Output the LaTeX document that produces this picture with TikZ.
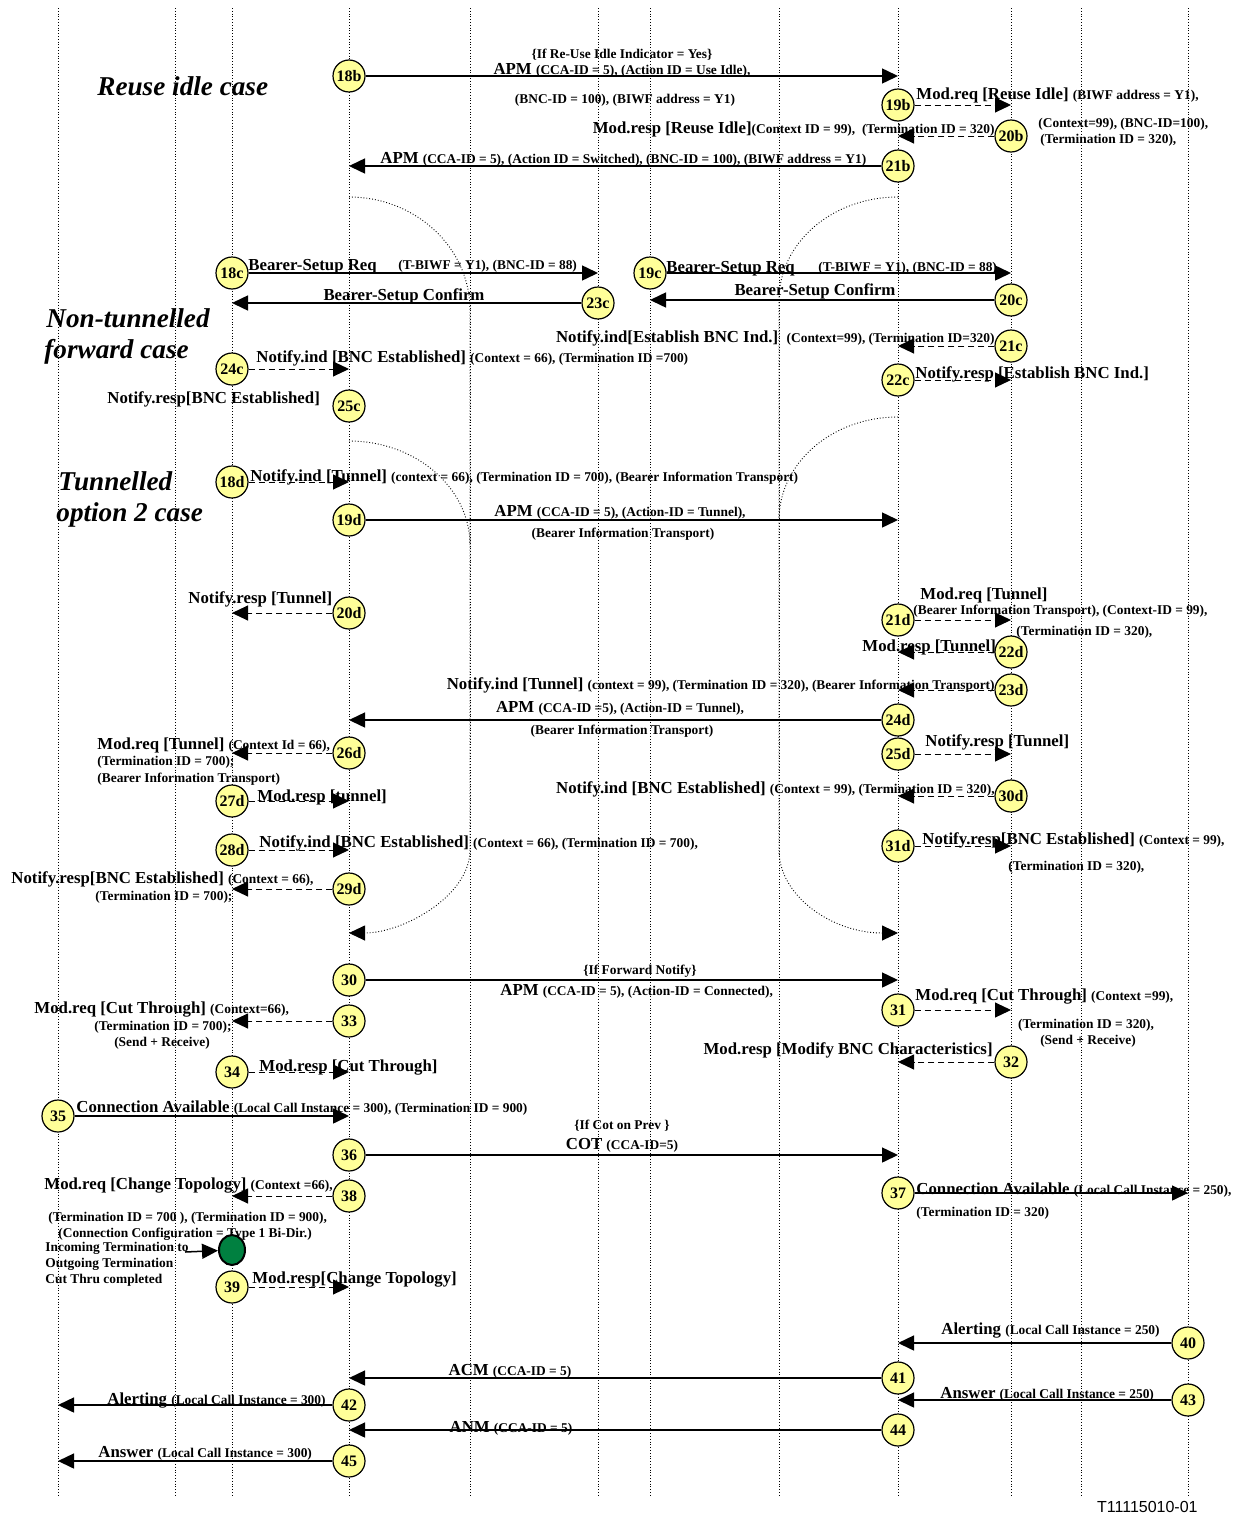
\documentclass[tikz,border=0pt]{standalone}
\usepackage{fontspec}
\setmainfont{Liberation Serif}
\newfontfamily\idfont{Liberation Sans}
\usetikzlibrary{arrows.meta,shapes.geometric}
\definecolor{stepyellow}{RGB}{255,255,153}
\definecolor{cutgreen}{RGB}{0,128,64}
\newcommand\sm[1]{{\fontsize{6.7}{7}\selectfont #1}}
\tikzset{
	life/.style={densely dotted,line width=0.4pt},
	stepnum/.style={circle,draw,line width=0.6pt,fill=stepyellow,minimum size=16pt,inner sep=0pt,font=\bfseries\fontsize{8}{8}\selectfont},
	msg/.style={line width=0.75pt,-{Triangle[length=8pt,width=7.5pt]}},
	ctl/.style={densely dashed,line width=0.5pt,-{Triangle[length=8pt,width=7.5pt]}},
	arcpath/.style={densely dotted,line width=0.45pt},
	lbl/.style={inner sep=0pt,font=\bfseries\fontsize{8.4}{9}\selectfont},
	note/.style={inner sep=0pt,font=\bfseries\fontsize{6.7}{7.6}\selectfont},
	casetitle/.style={inner sep=0pt,anchor=base west,font=\bfseries\itshape\fontsize{13.6}{16}\selectfont},
}
\begin{document}
\begin{tikzpicture}[x=0.5pt,y=-0.5pt]
	\useasboundingbox (0,0) rectangle (1241,1515);

	\foreach \i/\x in {1/58,2/175,3/232,4/349,5/470,6/598,7/650,8/779,9/898,10/1011,11/1081,12/1188}{
		\coordinate (L\i) at (\x,8);
		\coordinate (E\i) at (\x,1495);
		\draw[life] (L\i) -- (E\i);
	}

	\coordinate (la) at (349,197);
	\coordinate (lb) at (349,441);
	\coordinate (lc) at (349,933);
	\coordinate (ra) at (898,197);
	\coordinate (rb) at (898,417);
	\coordinate (rc) at (898,933);
	\draw[arcpath] (la) .. controls (416,197) and (470,248) .. (470,310) -- (470,850);
	\draw[arcpath] (lb) .. controls (416,441) and (470,488) .. (470,545);
	\draw[arcpath,-{Triangle[length=8pt,width=7.5pt]}] (470,850) .. controls (470,896) and (403,933) .. (lc);
	\draw[arcpath] (ra) .. controls (832,197) and (779,243) .. (779,300) -- (779,850);
	\draw[arcpath] (rb) .. controls (832,417) and (779,463) .. (779,520);
	\draw[arcpath,-{Triangle[length=8pt,width=7.5pt]}] (779,850) .. controls (779,896) and (832,933) .. (rc);

	\foreach \n/\x/\y in {18b/349/76,19b/898/105,20b/1011/136,21b/898/166,
		18c/232/273,23c/598/303,19c/650/273,20c/1011/300,21c/1011/346,24c/232/369,22c/898/380,25c/349/406,
		18d/232/482,19d/349/520,20d/349/613,21d/898/620,22d/1011/652,23d/1011/690,24d/898/720,25d/898/754,
		26d/349/753,27d/232/801,30d/1011/796,28d/232/850,31d/898/846,29d/349/889,
		30/349/980,33/349/1021,31/898/1010,32/1011/1062,34/232/1072,35/58/1116,36/349/1155,38/349/1196,
		37/898/1193,39/232/1287,40/1188/1343,41/898/1378,43/1188/1400,42/349/1405,44/898/1430,45/349/1461}
		\node[stepnum] (n\n) at (\x,\y) {\n};

	\foreach \from/\to in {18b/9,21b/4,18c/6,23c/3,19c/10,20c/7,19d/9,24d/4,30/9,35/4,36/9,37/12,40/9,41/4,43/9,42/1,44/4,45/1}
		\draw[msg] (n\from) -- (n\from -| L\to);
	\foreach \from/\to in {19b/10,20b/9,21c/9,24c/4,22c/10,18d/4,20d/3,21d/10,22d/9,23d/9,25d/10,26d/3,27d/4,30d/9,28d/4,31d/10,29d/3,33/3,31/10,32/9,34/4,38/3,39/4}
		\draw[ctl] (n\from) -- (n\from -| L\to);

	\node[casetitle] (reuse) at (97,95) {Reuse idle case};
	\node[casetitle] (nontunA) at (46,327) {Non-tunnelled};
	\node[casetitle] (nontunB) at (44,358) {forward case};
	\node[casetitle] (tunA) at (58,490) {Tunnelled};
	\node[casetitle] (tunB) at (56,521) {option 2 case};

	\node[note,anchor=base] (t18bif) at (622,58) {\{If Re-Use Idle Indicator = Yes\}};
	\node[lbl,anchor=base] (t18b) at (622,74) {APM \sm{(CCA-ID = 5), (Action ID = Use Idle),}};
	\node[note,anchor=base] (t18bx) at (625,103) {(BNC-ID = 100), (BIWF address = Y1)};
	\node[lbl,anchor=base west] (t19b) at (916,99) {Mod.req [Reuse Idle] \sm{(BIWF address = Y1),}};
	\node[lbl,anchor=base east] (t20b) at (995,133) {Mod.resp [Reuse Idle]\sm{(Context ID = 99),~~(Termination ID = 320)}};
	\node[note,anchor=base west] (t20bx) at (1038,127) {(Context=99), (BNC-ID=100),};
	\node[note,anchor=base west] (t20by) at (1040,143) {(Termination ID = 320),};
	\node[lbl,anchor=base west] (t21b) at (380,163) {APM \sm{(CCA-ID = 5), (Action ID = Switched), (BNC-ID = 100), (BIWF address = Y1)}};

	\node[lbl,anchor=base west] (t18c) at (248,270) {Bearer-Setup Req};
	\node[note,anchor=base west] (t18cx) at (398,269) {(T-BIWF = Y1), (BNC-ID = 88)};
	\node[lbl,anchor=base] (t23c) at (404,300) {Bearer-Setup Confirm};
	\node[lbl,anchor=base west] (t19c) at (666,272) {Bearer-Setup Req};
	\node[note,anchor=base west] (t19cx) at (818,271) {(T-BIWF = Y1), (BNC-ID = 88)};
	\node[lbl,anchor=base] (t20c) at (815,295) {Bearer-Setup Confirm};
	\node[lbl,anchor=base east] (t21c) at (995,342) {Notify.ind[Establish BNC Ind.]~~\sm{(Context=99), (Termination ID=320)}};
	\node[lbl,anchor=base west] (t24c) at (256,362) {Notify.ind [BNC Established] \sm{(Context = 66), (Termination ID =700)}};
	\node[lbl,anchor=base west] (t22c) at (915,378) {Notify.resp [Establish BNC Ind.]};
	\node[lbl,anchor=base west] (t25c) at (107,403) {Notify.resp[BNC Established]};

	\node[lbl,anchor=base west] (t18d) at (250,481) {Notify.ind [Tunnel] \sm{(context = 66), (Termination ID = 700), (Bearer Information Transport)}};
	\node[lbl,anchor=base] (t19d) at (620,516) {APM \sm{(CCA-ID = 5), (Action-ID = Tunnel),}};
	\node[note,anchor=base] (t19dx) at (623,537) {(Bearer Information Transport)};
	\node[lbl,anchor=base west] (t20d) at (188,603) {Notify.resp [Tunnel]};
	\node[lbl,anchor=base west] (t21d) at (920,599) {Mod.req [Tunnel]};
	\node[note,anchor=base west] (t21dx) at (913,614) {(Bearer Information Transport), (Context-ID = 99),};
	\node[note,anchor=base west] (t21dy) at (1016,635) {(Termination ID = 320),};
	\node[lbl,anchor=base west] (t22d) at (862,651) {Mod.resp [Tunnel]};
	\node[lbl,anchor=base east] (t23d) at (995,689) {Notify.ind [Tunnel] \sm{(context = 99), (Termination ID = 320), (Bearer Information Transport)}};
	\node[lbl,anchor=base] (t24d) at (620,712) {APM \sm{(CCA-ID =5), (Action-ID = Tunnel),}};
	\node[note,anchor=base] (t24dx) at (622,734) {(Bearer Information Transport)};
	\node[lbl,anchor=base west] (t25d) at (925,746) {Notify.resp [Tunnel]};
	\node[lbl,anchor=base west] (t26d) at (97,749) {Mod.req [Tunnel] \sm{(Context Id = 66),}};
	\node[note,anchor=base west] (t26dx) at (97,765) {(Termination ID = 700);};
	\node[note,anchor=base west] (t26dy) at (97,782) {(Bearer Information Transport)};
	\node[lbl,anchor=base west] (t27d) at (257,801) {Mod.resp [tunnel]};
	\node[lbl,anchor=base east] (t30d) at (995,793) {Notify.ind [BNC Established] \sm{(Context = 99), (Termination ID = 320),}};
	\node[lbl,anchor=base west] (t28d) at (259,847) {Notify.ind [BNC Established] \sm{(Context = 66), (Termination ID = 700),}};
	\node[lbl,anchor=base west] (t31d) at (922,844) {Notify.resp[BNC Established] \sm{(Context = 99),}};
	\node[note,anchor=base west] (t31dx) at (1008,870) {(Termination ID = 320),};
	\node[lbl,anchor=base west] (t29d) at (11,883) {Notify.resp[BNC Established] \sm{(Context = 66),}};
	\node[note,anchor=base west] (t29dx) at (95,900) {(Termination ID = 700);};

	\node[note,anchor=base] (t30if) at (640,974) {\{If Forward Notify\}};
	\node[lbl,anchor=base west] (t30) at (500,995) {APM \sm{(CCA-ID = 5), (Action-ID = Connected),}};
	\node[lbl,anchor=base west] (t33) at (34,1013) {Mod.req [Cut Through] \sm{(Context=66),}};
	\node[note,anchor=base] (t33x) at (163,1030) {(Termination ID = 700);};
	\node[note,anchor=base] (t33y) at (162,1046) {(Send + Receive)};
	\node[lbl,anchor=base west] (t31) at (915,1000) {Mod.req [Cut Through] \sm{(Context =99),}};
	\node[note,anchor=base] (t31x) at (1086,1028) {(Termination ID = 320),};
	\node[note,anchor=base] (t31y) at (1088,1044) {(Send + Receive)};
	\node[lbl,anchor=base east] (t32) at (993,1054) {Mod.resp [Modify BNC Characteristics]};
	\node[lbl,anchor=base west] (t34) at (259,1071) {Mod.resp [Cut Through]};
	\node[lbl,anchor=base west] (t35) at (76,1112) {Connection Available \sm{(Local Call Instance = 300), (Termination ID = 900)}};
	\node[note,anchor=base] (t36if) at (622,1129) {\{If Cot on Prev \}};
	\node[lbl,anchor=base] (t36) at (622,1149) {COT \sm{(CCA-ID=5)}};
	\node[lbl,anchor=base west] (t38) at (44,1189) {Mod.req [Change Topology] \sm{(Context =66),}};
	\node[note,anchor=base west] (t38x) at (48,1221) {(Termination ID = 700 ), (Termination ID = 900),};
	\node[note,anchor=base west] (t38y) at (58,1237) {(Connection Configuration = Type 1 Bi-Dir.)};
	\node[lbl,anchor=base west] (t37) at (916,1194) {Connection Available \sm{(Local Call Instance = 250),}};
	\node[note,anchor=base west] (t37x) at (916,1216) {(Termination ID = 320)};

	\node[ellipse,draw,line width=1pt,fill=cutgreen,minimum width=13pt,minimum height=15pt,inner sep=0pt] (cut) at (232,1250) {};
	\coordinate (cutin) at (185,1252);
	\draw[msg] (cutin) -- (cut);
	\node[note,anchor=base west] (cutA) at (45,1251) {Incoming Termination to};
	\node[note,anchor=base west] (cutB) at (45,1267) {Outgoing Termination};
	\node[note,anchor=base west] (cutC) at (45,1283) {Cut Thru completed};
	\node[lbl,anchor=base west] (t39) at (252,1283) {Mod.resp[Change Topology]};

	\node[lbl,anchor=base west] (t40) at (941,1334) {Alerting \sm{(Local Call Instance = 250)}};
	\node[lbl,anchor=base] (t41) at (510,1375) {ACM \sm{(CCA-ID = 5)}};
	\node[lbl,anchor=base west] (t43) at (940,1398) {Answer \sm{(Local Call Instance = 250)}};
	\node[lbl,anchor=base west] (t42) at (107,1404) {Alerting \sm{(Local Call Instance = 300)}};
	\node[lbl,anchor=base] (t44) at (511,1432) {ANM \sm{(CCA-ID = 5)}};
	\node[lbl,anchor=base west] (t45) at (98,1457) {Answer \sm{(Local Call Instance = 300)}};

	\node[inner sep=0pt,anchor=base east,font=\idfont\fontsize{8}{9}\selectfont] (figid) at (1198,1512) {T11115010-01};
\end{tikzpicture}
\end{document}
